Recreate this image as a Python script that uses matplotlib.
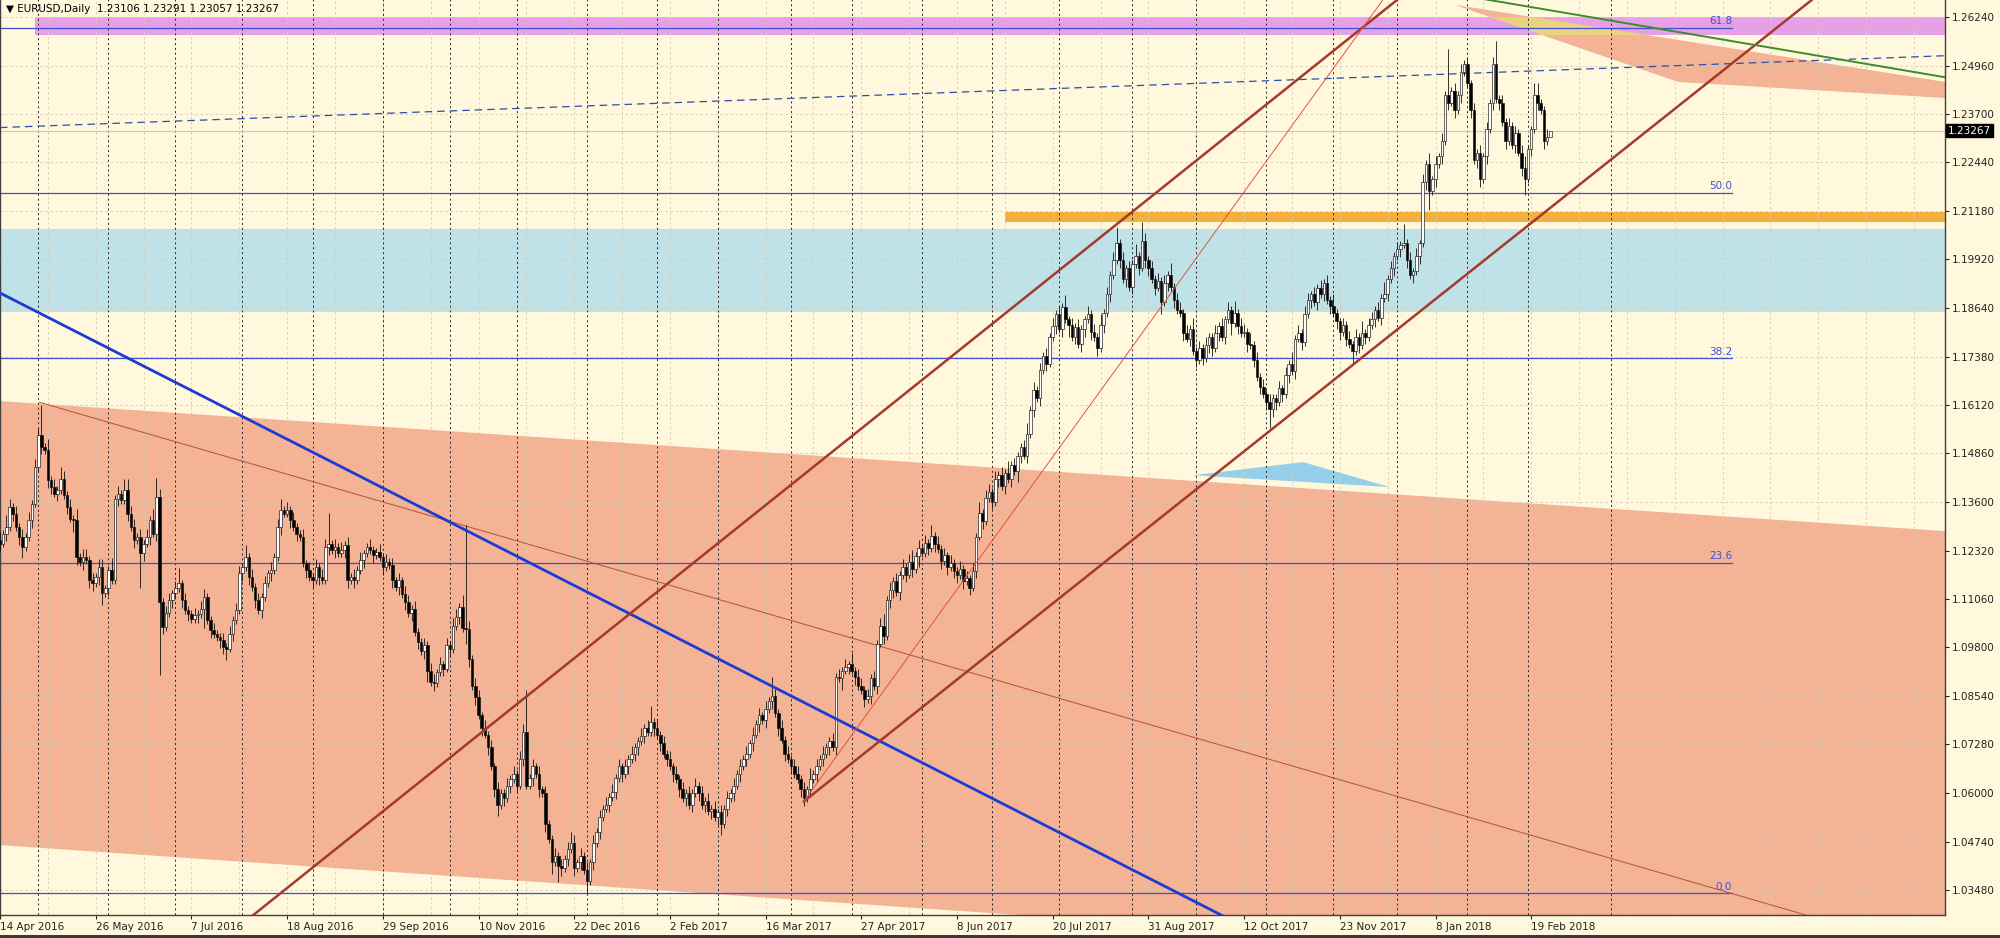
import numpy as np
import matplotlib
matplotlib.use('Agg')
import matplotlib.pyplot as plt
from matplotlib.patches import Polygon, Rectangle
import matplotlib.transforms as mtransforms

# ---- daily closes, EURUSD, in 1e-4 units (bar 0 = 14 Apr 2016)
closes = [
    11251, 11277, 11294, 11347, 11329, 11294, 11268, 11242, 11268, 11312,
    11355, 11451, 11533, 11503, 11494, 11416, 11399, 11381, 11390, 11420,
    11377, 11347, 11316, 11312, 11216, 11203, 11216, 11208, 11155, 11147,
    11164, 11190, 11121, 11134, 11182, 11155, 11368, 11381, 11364, 11390,
    11329, 11294, 11260, 11268, 11225, 11251, 11268, 11312, 11277, 11373,
    11099, 11034, 11069, 11103, 11121, 11134, 11147, 11103, 11077, 11068,
    11055, 11064, 11068, 11081, 11112, 11051, 11025, 11016, 11008, 10999,
    10982, 10977, 11016, 11051, 11077, 11173, 11190, 11216, 11164, 11138,
    11103, 11077, 11112, 11147, 11173, 11182, 11216, 11294, 11338, 11329,
    11338, 11312, 11294, 11277, 11268, 11199, 11182, 11164, 11155, 11190,
    11164, 11155, 11242, 11251, 11234, 11242, 11225, 11234, 11247, 11155,
    11164, 11155, 11182, 11208, 11225, 11242, 11234, 11221, 11229, 11216,
    11190, 11203, 11194, 11155, 11138, 11155, 11120, 11098, 11070, 11081,
    11020, 10995, 10970, 10986, 10920, 10890, 10887, 10915, 10936, 10925,
    10986, 10975, 11036, 11060, 11086, 11030, 11028, 10950, 10880, 10850,
    10803, 10770, 10753, 10720, 10670, 10610, 10570, 10600, 10587, 10620,
    10637, 10650, 10620, 10690, 10760, 10620, 10640, 10670, 10650, 10610,
    10600, 10520, 10480, 10420, 10437, 10410, 10404, 10430, 10454, 10470,
    10404, 10420, 10437, 10400, 10371, 10420, 10471, 10500, 10537, 10560,
    10570, 10590, 10604, 10640, 10670, 10650, 10670, 10690, 10703, 10720,
    10737, 10750, 10770, 10760, 10787, 10770, 10753, 10730, 10703, 10690,
    10670, 10650, 10637, 10610, 10587, 10600, 10570, 10600, 10620, 10600,
    10570, 10580, 10554, 10560, 10537, 10550, 10520, 10560, 10587, 10600,
    10620, 10650, 10670, 10690, 10703, 10730, 10753, 10780, 10803, 10790,
    10820, 10840, 10853, 10810, 10770, 10740, 10703, 10690, 10670, 10650,
    10637, 10610, 10587, 10610, 10637, 10650, 10670, 10690, 10703, 10720,
    10737, 10720, 10903, 10900, 10920, 10930, 10936, 10920, 10903, 10880,
    10870, 10845, 10853, 10900, 10880, 10990, 11036, 11010, 11103, 11130,
    11153, 11125, 11169, 11190, 11170, 11203, 11185, 11219, 11240, 11225,
    11253, 11240, 11270, 11250, 11236, 11205, 11220, 11190, 11200, 11180,
    11169, 11185, 11153, 11160, 11136, 11180, 11269, 11330, 11310, 11370,
    11386, 11360, 11419, 11430, 11400, 11436, 11419, 11455, 11440, 11480,
    11502, 11480, 11536, 11600, 11652, 11630, 11702, 11740, 11720, 11790,
    11818, 11850, 11810, 11868, 11835, 11820, 11790, 11815, 11770, 11810,
    11835, 11850, 11802, 11790, 11760, 11820, 11852, 11900, 11951, 11990,
    12035, 11990, 11940, 11968, 11920, 11980, 12001, 11970, 12040, 11990,
    11968, 11940, 11918, 11935, 11880, 11930, 11951, 11920, 11885, 11860,
    11852, 11800, 11785, 11810, 11752, 11730, 11760, 11735, 11768, 11790,
    11760, 11800, 11818, 11790, 11835, 11860, 11825, 11852, 11818, 11800,
    11802, 11770, 11768, 11730, 11685, 11660, 11640, 11620, 11602, 11630,
    11619, 11655, 11640, 11690, 11719, 11700, 11785, 11800, 11775, 11850,
    11885, 11900, 11880, 11918, 11902, 11930, 11885, 11870, 11852, 11830,
    11802, 11820, 11785, 11770, 11752, 11790, 11768, 11800, 11790, 11820,
    11835, 11860, 11840, 11890, 11902, 11940, 11968, 12000, 12018, 12030,
    12035, 11990, 11951, 11960, 12000, 12033, 12193, 12240, 12170, 12200,
    12240, 12260, 12300, 12420, 12400, 12430, 12380, 12420, 12480, 12500,
    12450, 12380, 12250, 12270, 12200, 12260, 12330, 12400, 12500, 12410,
    12400, 12350, 12300, 12340, 12290, 12320, 12270, 12230, 12200, 12280,
    12330, 12420, 12400, 12380, 12300, 12310, 12327,
]
first_open = 11260

# wick lengths in 10-pip units (base 36 digits), upper and lower
up_wick = ("2132121212" "1228131213" "2121312212" "1221131213" "3221212135"
           "2122124121" "1212211211" "2121221312" "1212121231" "2121121212"
           "1228121212" "1212112112" "1212121221" "2112122121" "212213r212"
           "2121212112" "12122b1212" "1211212123" "2121212121" "2121212121"
           "1212412121" "2121212121" "2121212121" "2121212121" "2152121212"
           "2121312121" "1212121312" "2121212312" "1212123121" "2131212121"
           "1212121312" "2121213121" "1231212121" "2121312121" "1212131212"
           "4121213152" "1212121312" "2121312121" "1212121312" "2131212121"
           "1212131212" "2121212131" "1212121312" "2121312121" "5121212131"
           "2121c12121" "2121212126" "1212121231" "1331120")
lo_wick = ("2121212311" "2112122121" "1213212122" "1231211211" "2121921212"
           "j211211212" "1121512112" "2312112121" "2121121121" "1212112121"
           "2112121122" "1211211211" "2112121212" "1212312112" "1211214212"
           "1212123121" "2121211212" "1213142121" "2121312121" "1212121212"
           "2121121212" "1212121212" "1212123121" "2121212121" "2121212121"
           "1221212121" "2121312121" "1212121212" "2121212131" "1212121212"
           "2121212121" "1212121213" "2121212121" "1212131212" "2121212121"
           "1212121212" "2121312121" "1212121212" "2121213121" "1212121252"
           "2121212121" "1212121212" "2121312121" "1212121212" "1212121251"
           "2121212121" "1212212121" "2121121241" "2121210")

date_labels = ['14 Apr 2016', '26 May 2016', '7 Jul 2016', '18 Aug 2016', '29 Sep 2016',
               '10 Nov 2016', '22 Dec 2016', '2 Feb 2017', '16 Mar 2017', '27 Apr 2017',
               '8 Jun 2017', '20 Jul 2017', '31 Aug 2017', '12 Oct 2017', '23 Nov 2017',
               '8 Jan 2018', '19 Feb 2018']
date_bars = [30 * i for i in range(len(date_labels))]
price_ticks = [1.26240, 1.24960, 1.23700, 1.22440, 1.21180, 1.19920, 1.18640, 1.17380,
               1.16120, 1.14860, 1.13600, 1.12320, 1.11060, 1.09800, 1.08540, 1.07280,
               1.06000, 1.04740, 1.03480]
separator_bars = [12, 34, 55, 76, 98, 120, 141, 162, 184, 206, 225, 248, 267, 289, 311,
                  332, 355, 375, 397, 418, 438, 460, 479, 505]

fib_names = ['0.0', '23.6', '38.2', '50.0', '61.8']
fib_pct = [0.0, 23.6, 38.2, 50.0, 61.8]
fib_lo, fib_hi, fib_end = 1.0340, 1.3990, 543

# drawn objects (bar index, price)
chan_x = [0, 612, 612, 0]
chan_y = [1.1622, 1.1282, 1.0116, 1.0465]
mid_x, mid_y = [12.4, 566], [1.1619, 1.0283]
blue_x, blue_y = [0, 383], [1.1904, 1.0282]
upch_x, upch_y = [79.3, 438], [1.0282, 1.2668]
loch_x, loch_y = [252, 568], [1.0579, 1.2668]
thin_x, thin_y = [252, 433.5], [1.0579, 1.2668]
dash_x, dash_y = [0, 612], [1.2335, 1.2523]
green_x, green_y = [458, 612], [1.2680, 1.2463]
wedge_x = [456, 612, 612, 526]
wedge_y = [1.2655, 1.2451, 1.2411, 1.2454]
tri_x = [374, 408.5, 435.7]
tri_y = [1.1429, 1.1463, 1.1398]
magenta_band = (11, 1.2575, 1.2624)
lblue_band = (0, 1.1855, 1.2070)
orange_band = (315, 1.2090, 1.2116)
last_price = 1.23267

bg = '#FFF8DC'
salmon = '#F3B394'

c = np.array(closes) / 1e4
o = np.r_[first_open / 1e4, c[:-1]]
uw = np.array([int(ch, 36) for ch in up_wick]) * 0.001
lw_ = np.array([int(ch, 36) for ch in lo_wick]) * 0.001
hi = np.maximum(o, c) + uw
lo = np.minimum(o, c) - lw_
x = np.arange(len(c))

fig = plt.figure(figsize=(20, 9.38), dpi=100)
fig.patch.set_facecolor(bg)
ax = fig.add_axes([0, 1 - 915 / 938, 1945 / 2000, 915 / 938])
ax.set_facecolor(bg)
xmax = 1945 / 3.19
ax.set_xlim(0, xmax)
ax.set_ylim(1.02828, 1.26675)

# filled objects
ax.add_patch(Polygon(list(zip(chan_x, chan_y)), closed=True, fc=salmon, ec='none', zorder=0.5))
ax.add_patch(Rectangle((lblue_band[0], lblue_band[1]), 700, lblue_band[2] - lblue_band[1],
                       fc='#BFE2E8', ec='none', zorder=0.6))
ax.add_patch(Rectangle((orange_band[0], orange_band[1]), 700, orange_band[2] - orange_band[1],
                       fc='#F4B03E', ec='none', zorder=0.6))
mag = Rectangle((magenta_band[0], magenta_band[1]), 700, magenta_band[2] - magenta_band[1],
                fc='#E6A0E6', ec='none', zorder=0.6)
ax.add_patch(mag)
ax.add_patch(Polygon(list(zip(wedge_x, wedge_y)), closed=True, fc=salmon, ec='none', zorder=0.7))
overlap = Polygon(list(zip(wedge_x, wedge_y)), closed=True, fc='#EAD37E', ec='none', zorder=0.8)
ax.add_patch(overlap)
overlap.set_clip_path(mag)
ax.add_patch(Polygon(list(zip(tri_x, tri_y)), closed=True, fc='#95CFEA', ec='none', zorder=0.7))

# grid and period separators
ax.hlines(price_ticks, 0, xmax, colors='#D2CCB8', lw=0.6, linestyles=(0, (3, 3)), zorder=1)
ax.vlines(np.arange(0, 615, 15), 1.0, 1.3, colors='#D2CCB8', lw=0.6, linestyles=(0, (3, 3)), zorder=1)
ax.vlines(separator_bars, 1.0, 1.3, colors='#222222', lw=0.7, linestyles=(0, (2, 3)), zorder=1.2)

# fibonacci levels
fibc = '#3F4FD6'
for name, pct in zip(fib_names, fib_pct):
    lev = fib_lo + (fib_hi - fib_lo) * pct / 100
    ax.plot([0, fib_end], [lev, lev], color=fibc, lw=0.9, zorder=2)
    ax.text(fib_end, lev + 0.0004, name, color=fibc, fontsize=7.5, ha='right', va='bottom', zorder=2)

ax.axhline(last_price, color='#C8C8C8', lw=0.8, zorder=1.5)
ax.plot(mid_x, mid_y, color='#B5503A', lw=0.7, zorder=2.5)
ax.plot(dash_x, dash_y, color='#2C4EA8', lw=0.9, ls=(0, (6, 4)), zorder=2.5)

# candles
bull = c >= o
ax.vlines(x, lo, hi, colors='#111111', lw=0.6, zorder=3)
body = np.maximum(np.abs(c - o), 0.00006)
ax.bar(x, body, bottom=np.minimum(o, c), width=0.8,
       color=np.where(bull, 'white', 'black'), edgecolor='#111111', linewidth=0.45, zorder=3.5)

# trend lines
ax.plot(blue_x, blue_y, color='#1C3BD4', lw=2, zorder=4)
ax.plot(upch_x, upch_y, color='#A33A2C', lw=1.8, zorder=4)
ax.plot(loch_x, loch_y, color='#A33A2C', lw=1.8, zorder=4)
ax.plot(thin_x, thin_y, color='#E0563A', lw=0.7, zorder=4)
ax.plot(green_x, green_y, color='#3C8C2C', lw=1.4, zorder=4)

# axes
ax.yaxis.tick_right()
ax.set_yticks(price_ticks)
ax.set_yticklabels(['%.5f' % p for p in price_ticks], fontsize=7.5)
ax.set_xticks(date_bars)
ax.set_xticklabels(date_labels, fontsize=7.5)
for lab in ax.get_xticklabels():
    lab.set_ha('left')
ax.tick_params(axis='both', direction='out', length=3, width=0.8, colors='#222222', pad=2)
ax.spines['top'].set_visible(False)
for s in ['right', 'bottom', 'left']:
    ax.spines[s].set_color('#404040')
    ax.spines[s].set_linewidth(1)

trans = mtransforms.blended_transform_factory(ax.transAxes, ax.transData)
ax.text(1.0015, last_price, '%.5f' % last_price, transform=trans, fontsize=7.5, color='white',
        va='center', ha='left', bbox=dict(fc='black', ec='black', pad=1.2), zorder=6)

fig.text(0.003, 1 - 9 / 938, '\u25bc EURUSD,Daily  1.23106 1.23291 1.23057 1.23267',
         fontsize=7.5, va='center', ha='left')
fig.patches.append(Rectangle((0, 0), 1, 3 / 938, transform=fig.transFigure, fc='#3A3A3A', ec='none'))

fig.savefig('out.png', dpi=100, facecolor=bg)
